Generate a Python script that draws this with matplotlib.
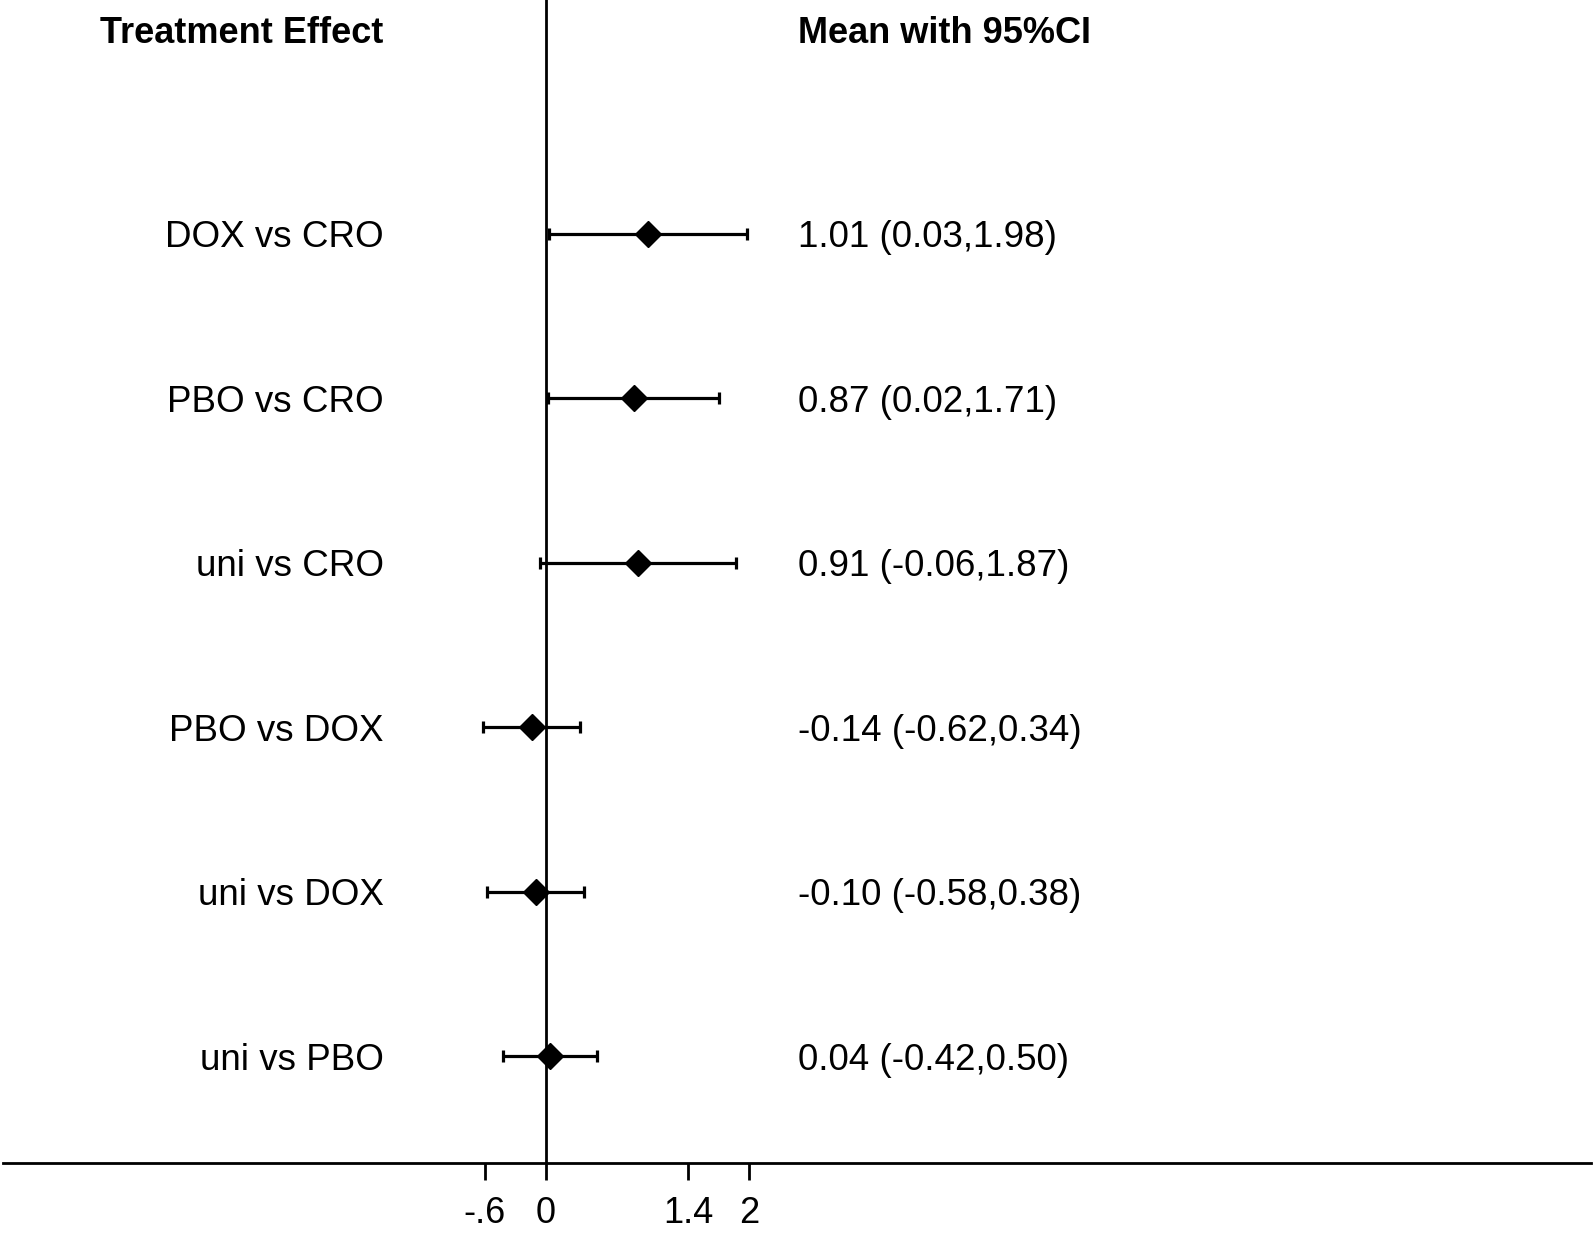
import numpy as np
import matplotlib
matplotlib.use("Agg")
import matplotlib.pyplot as plt

plt.rcParams['font.family'] = ['Liberation Sans', 'DejaVu Sans']

# forest plot data
comparisons = ["DOX vs CRO", "PBO vs CRO", "uni vs CRO", "PBO vs DOX", "uni vs DOX", "uni vs PBO"]
means = np.array([1.01, 0.87, 0.91, -0.14, -0.10, 0.04])
lower = np.array([0.03, 0.02, -0.06, -0.62, -0.58, -0.42])
upper = np.array([1.98, 1.71, 1.87, 0.34, 0.38, 0.50])
tick_vals = [-0.6, 0, 1.4, 2]
tick_labels = ["-.6", "0", "1.4", "2"]

fig = plt.figure(figsize=(15.94, 12.38), dpi=100)
ax = fig.add_axes([3/1594, 75/1238, 1588/1594, 1163/1238])

rows = np.arange(len(comparisons))
ax.errorbar(means, rows, xerr=[means - lower, upper - means], fmt='D', color='black',
            ms=13, elinewidth=2.3, capsize=4, capthick=2.3, zorder=3)

ax.axvline(0, color='black', lw=2, zorder=2)

ax.set_xlim(-5.35, 10.3)
ax.set_ylim(5.65, -1.42)

fs = 26.5
for i, name in enumerate(comparisons):
    ax.text(-1.6, i + 0.025, name, ha='right', va='center', fontsize=fs)
    ax.text(2.48, i + 0.025, f"{means[i]:.2f} ({lower[i]:.2f},{upper[i]:.2f})",
            ha='left', va='center', fontsize=fs)

ax.text(-1.6, -1.215, "Treatment Effect", ha='right', va='center', fontsize=26, fontweight='bold')
ax.text(2.48, -1.215, "Mean with 95%CI", ha='left', va='center', fontsize=26, fontweight='bold')

for s in ['top', 'right', 'left']:
    ax.spines[s].set_visible(False)
ax.spines['bottom'].set_linewidth(2)
ax.set_yticks([])
ax.set_xticks(tick_vals)
ax.set_xticklabels(tick_labels, fontsize=26)
ax.tick_params(axis='x', length=12, width=2, pad=12)

fig.savefig("out.png", dpi=100)
